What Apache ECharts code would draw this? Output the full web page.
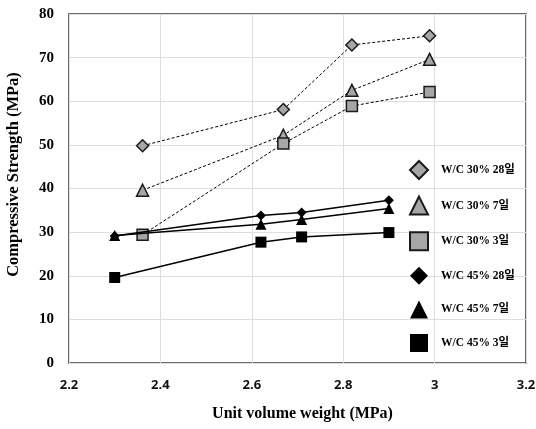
<!DOCTYPE html>
<html>
<head>
<meta charset="utf-8">
<script src="https://cdn.jsdelivr.net/npm/echarts@6/dist/echarts.min.js"></script>
<style>
  html, body { margin: 0; padding: 0; background: #fff; }
  #chart { width: 536px; height: 429px; }
</style>
</head>
<body>
<div id="chart"></div>
<script>
// Unit volume weight vs. compressive strength, per mix and curing age
const seriesNames = ['W/C 30% 28일', 'W/C 30% 7일', 'W/C 30% 3일', 'W/C 45% 28일', 'W/C 45% 7일', 'W/C 45% 3일'];

const wc30Weight = [2.361, 2.669, 2.819, 2.989];
const wc45Weight = [2.30, 2.62, 2.709, 2.90];

const wc30Day28 = [49.8, 58.1, 72.9, 75.0];
const wc30Day7  = [39.6, 52.2, 62.5, 69.6];
const wc30Day3  = [29.4, 50.3, 58.9, 62.1];
const wc45Day28 = [29.1, 33.8, 34.5, 37.3];
const wc45Day7  = [29.2, 31.8, 32.9, 35.4];
const wc45Day3  = [19.6, 27.7, 28.9, 29.9];

const xTicks = { min: 2.2, max: 3.2, step: 0.2 };
const yTicks = { min: 0, max: 80, step: 10 };

const pair = (xs, ys) => xs.map((x, i) => [x, ys[i]]);

const serif = "'Liberation Serif', 'Times New Roman', 'Noto Sans CJK KR', serif";
const sans = "'Open Sans', 'Noto Sans', sans-serif";

function dashedSeries(name, data, symbol, size) {
  return {
    name, type: 'line', data, symbol, symbolSize: size,
    lineStyle: { color: '#000', width: 1, type: [3, 2] },
    itemStyle: { color: '#a6a6a6', borderColor: '#1a1a1a', borderWidth: 1.5 },
    emphasis: { disabled: true }, z: 3
  };
}
function solidSeries(name, data, symbol, size) {
  return {
    name, type: 'line', data, symbol, symbolSize: size,
    lineStyle: { color: '#000', width: 1.5 },
    itemStyle: { color: '#000', borderColor: '#000', borderWidth: 0 },
    emphasis: { disabled: true }, z: 4
  };
}

const chart = echarts.init(document.getElementById('chart'), null, { renderer: 'canvas' });
chart.setOption({
  animation: false,
  backgroundColor: '#fff',
  grid: {
    left: 69, right: 10, top: 14, bottom: 66,
    outerBoundsMode: 'none', containLabel: false,
    show: true, borderColor: '#3a3a3a', borderWidth: 1.5, backgroundColor: 'transparent'
  },
  xAxis: {
    type: 'value', min: xTicks.min, max: xTicks.max, interval: xTicks.step,
    name: 'Unit volume weight (MPa)', nameLocation: 'middle', nameGap: 43,
    nameTextStyle: { fontFamily: serif, fontWeight: 'bold', fontSize: 16, color: '#000', padding: [0, 0, 0, 10] },
    axisLine: { show: false }, axisTick: { show: false },
    axisLabel: { fontFamily: sans, fontWeight: 'bold', fontSize: 13, color: '#111', margin: 16 },
    splitLine: { show: true, lineStyle: { color: '#dedede', width: 1 } }
  },
  yAxis: {
    type: 'value', min: yTicks.min, max: yTicks.max, interval: yTicks.step,
    name: 'Compressive Strength (MPa)', nameLocation: 'middle', nameGap: 47, nameRotate: 90,
    nameTextStyle: { fontFamily: serif, fontWeight: 'bold', fontSize: 16.5, color: '#000', padding: [0, 0, 0, 28] },
    axisLine: { show: false }, axisTick: { show: false },
    axisLabel: { fontFamily: serif, fontWeight: 'bold', fontSize: 15, color: '#000', margin: 15 },
    splitLine: { show: true, lineStyle: { color: '#dedede', width: 1 } }
  },
  legend: {
    orient: 'vertical', left: 404, top: 155,
    itemWidth: 18, itemHeight: 18, itemGap: 15.6,
    selectedMode: false,
    textStyle: { fontFamily: serif, fontWeight: 'bold', fontSize: 11.5, color: '#000', padding: [0, 0, 0, 8] },
    data: [
      { name: seriesNames[0], icon: 'diamond' },
      { name: seriesNames[1], icon: 'triangle' },
      { name: seriesNames[2], icon: 'rect' },
      { name: seriesNames[3], icon: 'diamond' },
      { name: seriesNames[4], icon: 'triangle' },
      { name: seriesNames[5], icon: 'rect' }
    ]
  },
  series: [
    dashedSeries(seriesNames[0], pair(wc30Weight, wc30Day28), 'diamond', 12),
    dashedSeries(seriesNames[1], pair(wc30Weight, wc30Day7), 'triangle', 12),
    dashedSeries(seriesNames[2], pair(wc30Weight, wc30Day3), 'rect', 11),
    solidSeries(seriesNames[3], pair(wc45Weight, wc45Day28), 'diamond', 10),
    solidSeries(seriesNames[4], pair(wc45Weight, wc45Day7), 'triangle', 11),
    solidSeries(seriesNames[5], pair(wc45Weight, wc45Day3), 'rect', 11)
  ]
});
</script>
</body>
</html>
